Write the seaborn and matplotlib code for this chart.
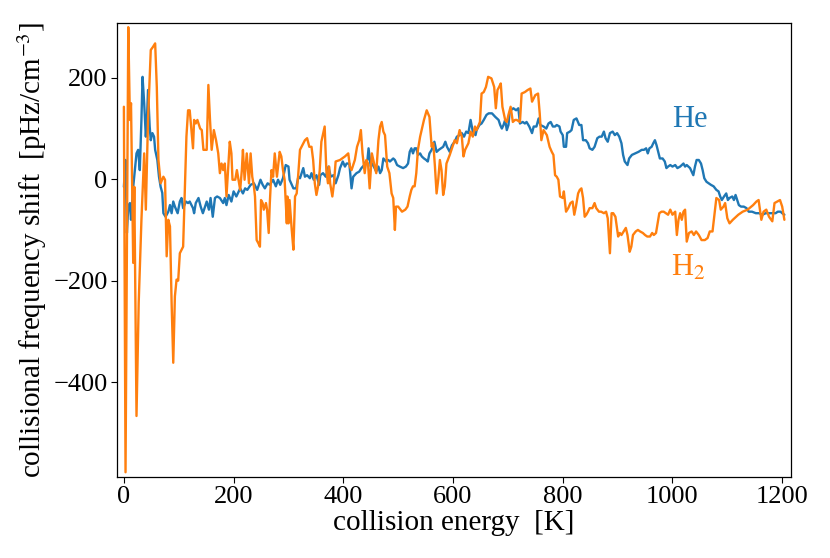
import numpy as np
import pandas as pd
import matplotlib
matplotlib.use("Agg")
import matplotlib.pyplot as plt
import seaborn as sns

# collision energies [K] and shifts [pHz/cm^-3]
he_energy = [0, 3, 5.5, 8, 11, 13, 17, 20, 23, 26, 29, 32, 34, 37, 40, 42, 44, 47, 49, 52,
             55, 57, 61, 64, 67, 70, 72, 76, 81, 84, 87, 90, 93, 98, 102, 105, 108, 113, 117,
             120, 126, 128, 131, 136, 140, 144, 151, 155, 158, 162, 166, 170, 175, 181, 184,
             187, 191, 196, 200, 205, 212, 217, 221, 225, 231, 237, 243, 249, 253, 257, 262,
             266, 272, 277, 281, 285, 290, 295, 300, 302, 309, 314, 318,
             321, 327, 330, 334, 339, 342, 346, 351, 356, 358, 363, 368, 373, 377, 382, 386,
             391, 394, 399, 403, 406, 411, 415, 418, 424, 429, 433, 438, 441, 444, 446, 450,
             453, 457, 460, 464, 467, 470, 473, 478, 482, 485, 488, 491, 494, 498, 503, 509,
             514, 518, 521, 524, 527, 530, 533, 536, 540, 543, 547, 551, 554, 557, 561, 566,
             570, 574, 578, 582, 586, 589, 594, 598, 603, 607, 612, 616, 620, 624, 628, 632,
             636, 641, 643, 648, 652, 656, 661, 665, 671, 677, 683, 686, 689, 692, 695, 698,
             701, 703, 705, 710, 715, 719, 722, 727, 731, 734, 739, 744, 747, 752, 756,
             759, 765, 770, 774, 778, 782, 786, 789, 794, 796, 800, 802, 806, 808, 813, 816,
             820, 825, 830, 834, 837, 842, 846, 849, 854, 858, 863, 867, 871, 875, 878, 882,
             886, 891, 895, 899, 903, 907, 910, 913, 918, 921, 926, 932, 938, 944, 948, 952,
             955, 958, 962, 965, 968, 971, 974, 977, 982, 986, 989, 992, 996, 1000, 1005,
             1009, 1014, 1017, 1020, 1023, 1026, 1029, 1032, 1035, 1038, 1041, 1044, 1048,
             1052, 1055, 1058, 1062, 1066, 1070, 1075, 1080, 1084, 1087, 1090, 1094, 1098,
             1101, 1104, 1109, 1112, 1115, 1118, 1121, 1125, 1130, 1135, 1139, 1145, 1152,
             1158, 1164, 1170, 1176, 1182, 1188, 1192, 1197, 1200, 1204]
he_shift = [-15, 38, -106, -54, -47, -80, -15, 18, 51, 58, 18, 117, 202, 150, 84, 117, 176, 104, 77, 91,
            84, 58, 38, 5, -15, -27, -67, -74, -64, -51, -67, -44, -54, -67, -44, -37, -57, -44, -47,
            -44, -57, -67, -47, -37, -54, -67, -44, -60, -37, -74, -37, -34, -37, -47, -37,
            -51, -31, -44, -24, -34, -18, -28, -18, -21, -11, -8, -21, -1, -11, -18, -8,
            -11, -1, -14, -1, -11, 2, 28, 25, -1, -18, -18, 5,
            2, 22, 5, 8, 2, 12, -1, 8, -11, 8, 12, 5, 25, 5, 8, -8,
            8, 22, 35, 25, 31, 31, -18, 5, 12, 15, 22, 28, 35, 38, 61, 25,
            31, 22, 15, 25, 12, 18, 41, 35, 38, 35, 38, 41, 38, 28, 25, 22,
            25, 31, 54, 61, 51, 61, 61, 48, 51, 45, 41, 38, 35, 51, 58, 74,
            54, 58, 61, 64, 74, 64, 54, 67, 74, 84, 87, 91, 84, 94, 91, 117,
            94, 87, 97, 107, 110, 117, 127, 130, 130, 123, 117, 107, 100, 107, 117, 97,
            107, 130, 136, 140, 136, 140, 110, 113, 110, 113, 104, 91, 104, 104, 120,
            107, 104, 100, 110, 113, 104, 104, 107, 104, 94, 87, 64, 64, 91, 94, 97,
            117, 120, 107, 107, 77, 77, 71, 61, 58, 64, 81, 84, 84, 94, 81, 74,
            91, 94, 87, 91, 84, 71, 48, 35, 28, 41, 48, 51, 54, 58, 58, 61,
            51, 61, 64, 71, 77, 67, 54, 41, 41, 35, 22, 25, 28, 25, 28,
            22, 25, 28, 31, 25, 28, 25, 22, 15, 8, 25, 38, 38,
            31, 18, 2, -5, -8, -11, -14, -21, -24, -34, -41, -34, -28,
            -41, -37, -34, -41, -31, -41, -51, -54, -54, -57, -64, -64, -67,
            -67, -70, -67, -67, -67, -67, -64, -64, -67, -70]

h2_energy = [0, 3, 8, 11, 13, 17, 19, 23, 27, 32, 37, 40, 44, 49, 53, 57, 60, 63, 67, 72, 75,
             78, 81, 84, 87, 90, 93, 96, 99, 102, 108, 111, 114, 117,
             120, 126, 128, 131, 134, 139, 142, 145, 151, 154, 157, 160, 164, 168, 172, 175,
             178, 181, 184, 187, 193, 196, 198, 203, 206, 209, 212, 215, 217, 220, 224, 228,
             231, 234, 237, 239, 242, 245, 248, 250, 253, 255, 259, 261, 264, 266, 269, 272,
             275, 279, 284, 287, 290, 293, 297, 298, 300, 302, 306, 309, 312, 315, 318,
             321, 330, 334, 338, 342, 345, 348, 351, 354, 357, 360, 366, 369, 372, 374, 376,
             380, 383, 386, 394, 403, 409, 412, 415, 421, 425, 429, 432, 435, 439, 442, 445,
             448, 452, 456, 460, 464, 467, 470, 473, 476, 480, 484, 488, 491, 494, 496, 500,
             507, 513, 517, 521, 524, 527, 530, 533, 536, 540, 547, 552, 557, 561, 564, 567,
             570, 573, 576, 579, 582, 585, 588, 594, 599, 603, 607, 612, 616, 619, 622, 628,
             632, 636, 640, 643, 649, 652, 656, 660, 664, 670, 675, 678, 681, 684, 687, 690,
             695, 698, 701, 705, 709, 713, 716, 722, 725, 731, 736, 741, 744, 750, 755,
             758, 761, 765, 771, 776, 780, 783, 786, 789, 792, 795, 800, 802, 806, 810, 814,
             818, 821, 824, 828, 831, 834, 837, 840, 843, 846, 849, 854, 858, 861, 866, 870,
             875, 879, 882, 886, 889, 892, 896, 901, 904, 907, 911, 915, 918, 922, 925, 928,
             933, 937, 941, 946, 950, 954, 959, 963, 966, 970, 976, 980, 984, 988, 992, 996,
             1000, 1005, 1008, 1011, 1014, 1017, 1020, 1023, 1026, 1030, 1035, 1039, 1043,
             1048, 1053, 1059, 1064, 1068, 1073, 1076, 1080, 1085, 1088, 1093, 1096, 1100,
             1104, 1110, 1120, 1128, 1137, 1147, 1153, 1157, 1162, 1166, 1171, 1176, 1182,
             1186, 1191, 1196, 1200, 1204]
h2_shift = [143, -578, 300, 117, 150, -165, -15, -467, -244, -80, 51, -60, 117, 255, 261, 268, 182, 38, -8, 5, -1,
            -152, -80, -93, -244, -362, -231, -198, -200, -146, -133, -27, 84, 136,
            136, 61, 117, 110, 117, 100, 97, 58, 58, 186, 117, 58, 97, 77, 51, 12,
            31, 18, 31, -34, 74, 51, -1, -1, 18, -1, -21, 18, 58, -1, 51, -8,
            51, 5, -14, -34, -120, -126, -133, -41, -47, -60, -47, -60, -106, -47, 18, 5,
            51, 5, 54, 45, 18, -1, -87, -34, -87, -41, -100, -139, -34, -28, 12,
            58, 77, 81, 64, 64, 38, -8, -31, -14, 18, 74, 104, 18, -8, 25, -8,
            -34, -8, 35, 38, 45, 51, 25, 18, 38, 64, 77, 97, 51, 12, 38, 31,
            -18, 51, 31, 12, 77, 104, 113, 94, 87, 25, 12, -28, -37, -100, -54, -54,
            -64, -60, -54, -34, -21, -14, -14, 12, 58, 84, 117, 136, 123, 64, 71, 25,
            -28, -1, 38, 18, -31, -14, 31, 48, 64, 77, 71, 97, 84, 45, 58, 71,
            94, 84, 104, 97, 113, 169, 172, 182, 202, 199, 182, 140, 176, 182, 189, 143,
            117, 113, 127, 143, 113, 117, 117, 113, 169, 172, 176, 179, 153, 166, 169,
            130, 77, 97, 87, 64, 54, 48, 8, 5, -1, -34, -37, -24, -64, -57, -47,
            -44, -70, -54, -28, -21, -18, -37, -74, -70, -64, -57, -57, -47, -57, -64, -64,
            -67, -64, -77, -146, -67, -67, -74, -113, -106, -110, -103, -96, -110, -143, -133, -110,
            -103, -100, -103, -106, -110, -113, -113, -106, -110, -106, -67, -64, -64, -67, -70, -60,
            -70, -64, -110, -80, -67, -80, -64, -60, -123, -106, -103, -110, -103,
            -110, -120, -120, -116, -103, -103, -74, -37, -41, -60, -54, -47, -77,
            -87, -80, -70, -64, -60, -51, -44, -41, -80, -64, -60, -74, -83,
            -47, -44, -41, -54, -80]

df = pd.concat([
    pd.DataFrame({"energy": he_energy, "shift": he_shift, "gas": "He"}),
    pd.DataFrame({"energy": h2_energy, "shift": h2_shift, "gas": "H2"}),
])

sns.set_style("ticks")
plt.rcParams["font.family"] = ["Liberation Serif", "DejaVu Serif"]
plt.rcParams["mathtext.fontset"] = "stix"
for key in ["text.color", "axes.labelcolor", "xtick.color", "ytick.color", "axes.edgecolor"]:
    plt.rcParams[key] = "black"
plt.rcParams["axes.linewidth"] = 0.9

blue, orange = "#1f77b4", "#ff7f0e"

fig = plt.figure(figsize=(8.3, 5.58), dpi=100)
ax = fig.add_axes([0.1413, 0.1457, 0.8117, 0.8136])
sns.lineplot(data=df, x="energy", y="shift", hue="gas", palette={"He": blue, "H2": orange},
             estimator=None, sort=False, linewidth=1.7, legend=False, ax=ax)
ax.margins(0.01)

ax.text(1000, 117, "He", color=blue, fontsize=22, va="center", ha="left")
ax.text(998, -175, "H$_2$", color=orange, fontsize=22, va="center", ha="left")

ax.set_xticks([0, 200, 400, 600, 800, 1000, 1200])
ax.set_yticks([-400, -200, 0, 200])
ax.tick_params(labelsize=19, length=4, width=0.8, pad=3)
ax.set_xlabel("collision energy  [K]", fontsize=21, labelpad=1)
ax.set_ylabel("collisional frequency shift  [pHz/cm$^{-3}$]", fontsize=21, labelpad=3)

fig.savefig("out.png", dpi=100)
